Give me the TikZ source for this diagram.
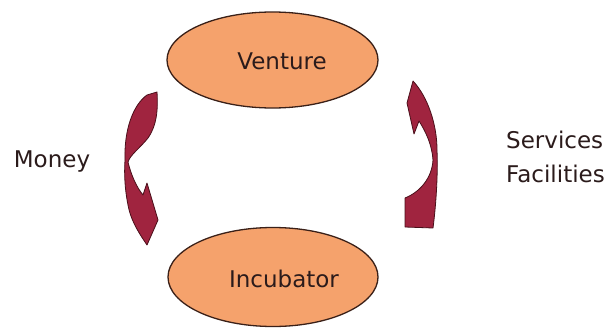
\documentclass[tikz,border=0pt]{standalone}
\usepackage{fontspec}
\setmainfont{DejaVu Sans}
\usetikzlibrary{shapes.geometric}
\definecolor{blobfill}{HTML}{F5A26C}
\definecolor{blobline}{HTML}{3A2018}
\definecolor{arrfill}{HTML}{A0243F}
\definecolor{arrline}{HTML}{4A0F1A}
\definecolor{txt}{HTML}{2B1B1B}
\tikzset{
  blob/.style={ellipse, fill=blobfill, draw=blobline, line width=1.3pt, inner sep=0pt},
  lbl/.style={font=\fontsize{23}{27}\selectfont, text=txt, inner sep=0pt},
  bentarrow/.style={fill=arrfill, draw=arrline, line width=0.8pt, line join=round}
}
\begin{document}
\begin{tikzpicture}[x=1pt,y=-1pt]
\useasboundingbox (0,0) rectangle (604,329);
\fill[white] (0,0) rectangle (604,329);
% ellipses
\node[blob, minimum width=211pt, minimum height=96pt] (venture) at (272.5,60) {};
\node[blob, minimum width=210pt, minimum height=99pt] (incubator) at (273,277) {};
% labels
\node[lbl, anchor=base] (venturetxt) at (282,70) {Venture};
\node[lbl, anchor=base] (incubatortxt) at (284,287) {Incubator};
\node[lbl, anchor=base] (money) at (52,167) {Money};
\node[lbl, anchor=base west] (services) at (506,148) {Services};
\node[lbl, anchor=base west] (facilities) at (506,182) {Facilities};
% left bent arrow (pointing down)
\draw[bentarrow] (147,95) -- (157,92)
  .. controls (158,110) and (157,125) .. (148,138)
  .. controls (140,148) and (130,155) .. (128,162)
  .. controls (131,175) and (137,188) .. (143,195)
  -- (147,183) -- (158,220) -- (147,245)
  .. controls (141,236) and (131,222) .. (128,205)
  .. controls (125,190) and (124,175) .. (125,160)
  .. controls (124,130) and (133,105) .. cycle;
% right bent arrow (pointing up)
\draw[bentarrow] (405,227) -- (433,228)
  .. controls (436,205) and (438,175) .. (437,150)
  .. controls (437,125) and (428,97) .. (413,81)
  -- (407,103) -- (414,134) -- (419,121)
  .. controls (426,132) and (432,145) .. (433,160)
  .. controls (432,178) and (420,192) .. (405,198) -- cycle;
\end{tikzpicture}
\end{document}
